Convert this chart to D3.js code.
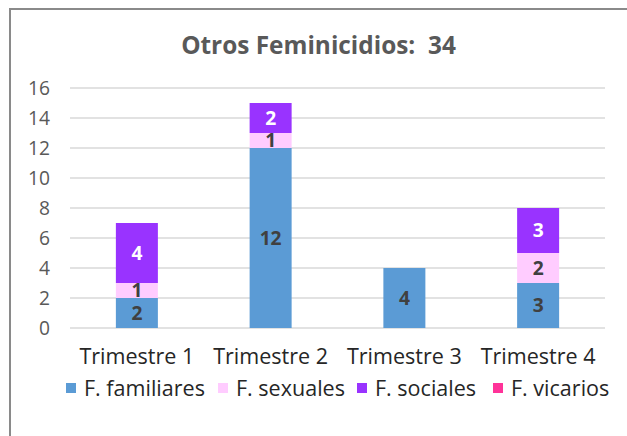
<!DOCTYPE html>
<html><head><meta charset="utf-8">
<script src="https://cdn.jsdelivr.net/npm/d3@7"></script>
<style>html,body{margin:0;padding:0;background:#fff;}svg{display:block;}</style>
</head><body>
<svg id="c" width="627" height="436"></svg>
<script>
const categories = ["Trimestre 1", "Trimestre 2", "Trimestre 3", "Trimestre 4"];
const seriesNames = ["F. familiares", "F. sexuales", "F. sociales", "F. vicarios"];
const familiares = [2, 12, 4, 3];
const sexuales = [1, 1, 0, 2];
const sociales = [4, 2, 0, 3];
const vicarios = [0, 0, 0, 0];
const yTicks = [0, 2, 4, 6, 8, 10, 12, 14, 16];
const titleText = "Otros Feminicidios:  34";

const colors = ["#5B9BD5", "#FFCCFF", "#9933FF", "#FF3399"];
const labelColors = ["#404040", "#404040", "#FFFFFF", "#FFFFFF"];
const seriesVals = [familiares, sexuales, sociales, vicarios];
const FONT = "'Open Sans', Lato, sans-serif";

const svg = d3.select("#c");

// fit a font size so that a given text node reaches a target width
function fitSize(node, base, target) {
  const w = node.getComputedTextLength();
  return w > 0 ? base * target / w : base;
}

// outer frame
svg.append("rect").attr("x", 10).attr("y", 9).attr("width", 640).attr("height", 460)
  .attr("fill", "none").attr("stroke", "#8a8a8a").attr("stroke-width", 2);

const x = d3.scaleBand().domain(categories).range([70, 605]).paddingInner(0.686).paddingOuter(0.343);
const y = d3.scaleLinear().domain([0, 16]).range([328, 88]);

// gridlines
svg.append("g").selectAll("line").data(yTicks).join("line")
  .attr("x1", 70).attr("x2", 605)
  .attr("y1", d => y(d)).attr("y2", d => y(d))
  .attr("stroke", "#D9D9D9").attr("stroke-width", 1.5);

// y axis
const yAxis = d3.axisLeft(y).tickValues(yTicks).tickSize(0).tickPadding(0);
const ya = svg.append("g").attr("transform", "translate(50,0)").call(yAxis);
ya.select(".domain").remove();
ya.selectAll("text").attr("font-family", FONT).attr("font-size", 18).attr("fill", "#595959").attr("dy", "0.35em");
{
  const n = ya.selectAll("text").filter(d => d === 16).node();
  const s = fitSize(n, 18, 22);
  ya.selectAll("text").attr("font-size", s);
}

// x axis
const xAxis = d3.axisBottom(x).tickSize(0).tickPadding(0);
const xa = svg.append("g").attr("transform", "translate(0,356)").call(xAxis);
xa.select(".domain").remove();
xa.selectAll("text").attr("font-family", FONT).attr("font-size", 20).attr("fill", "#262626").attr("dy", "0.35em");
{
  const n = xa.select("text").node();
  const s = fitSize(n, 20, 115);
  xa.selectAll("text").attr("font-size", s);
}

// stacked data
const rows = categories.map((c, i) => {
  const r = {cat: c};
  seriesNames.forEach((s, j) => r[s] = seriesVals[j][i]);
  return r;
});
const stack = d3.stack().keys(seriesNames)(rows);

const g = svg.append("g");
const labelG = svg.append("g");
stack.forEach((layer, j) => {
  const vis = layer.filter(d => d[1] - d[0] > 0);
  g.append("g").selectAll("rect").data(vis).join("rect")
    .attr("x", d => x(d.data.cat)).attr("width", x.bandwidth())
    .attr("y", d => y(d[1])).attr("height", d => y(d[0]) - y(d[1]))
    .attr("fill", colors[j]);
  labelG.append("g").selectAll("text").data(vis).join("text")
    .attr("x", d => x(d.data.cat) + x.bandwidth() / 2)
    .attr("y", d => (y(d[0]) + y(d[1])) / 2)
    .attr("dy", "0.36em")
    .attr("text-anchor", "middle")
    .attr("font-family", FONT).attr("font-weight", "bold").attr("font-size", 16)
    .attr("fill", labelColors[j])
    .text(d => d[1] - d[0]);
});
{
  const n = labelG.selectAll("text").filter(function () { return this.textContent === "12"; }).node();
  const s = fitSize(n, 16, 22);
  labelG.selectAll("text").attr("font-size", s);
}

// title
const title = svg.append("text").attr("x", 318.5).attr("y", 45).attr("dy", "0.36em").attr("text-anchor", "middle")
  .attr("font-family", FONT).attr("font-weight", "bold").attr("font-size", 22).attr("fill", "#595959")
  .attr("xml:space", "preserve").style("white-space", "pre")
  .text(titleText);
title.attr("font-size", fitSize(title.node(), 22, 275));

// legend
const legendX = [66, 218, 357, 493];
const lg = svg.append("g");
seriesNames.forEach((s, i) => {
  lg.append("rect").attr("x", legendX[i]).attr("y", 383).attr("width", 10).attr("height", 10).attr("fill", colors[i]);
  lg.append("text").attr("x", legendX[i] + 18).attr("y", 388).attr("dy", "0.35em")
    .attr("font-family", FONT).attr("font-size", 20).attr("fill", "#262626").text(s);
});
{
  const n = lg.selectAll("text").node();
  const s = fitSize(n, 20, 121);
  lg.selectAll("text").attr("font-size", s);
}
</script>
</body></html>
